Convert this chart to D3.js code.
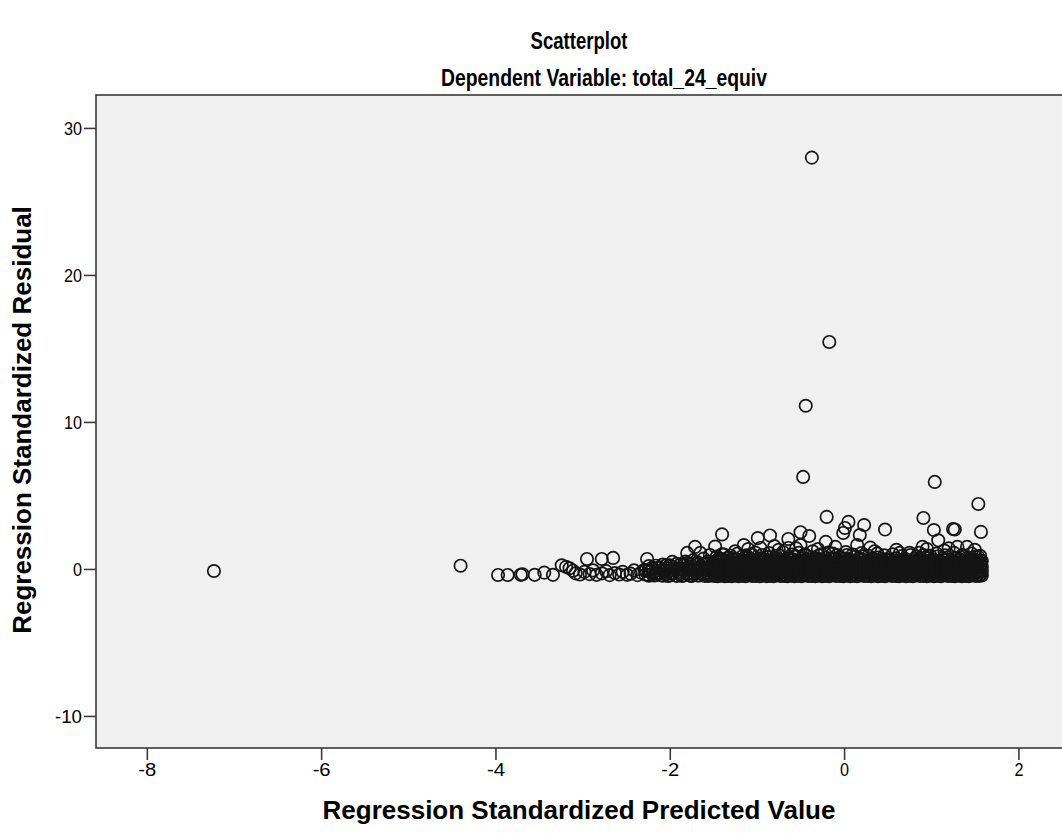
<!DOCTYPE html>
<html>
<head>
<meta charset="utf-8">
<script src="https://cdn.jsdelivr.net/npm/d3@7"></script>
<style>
html,body{margin:0;padding:0;background:#fff;}
svg{display:block;}
text{font-family:Arial,"Liberation Sans",sans-serif;fill:#000;}
</style>
</head>
<body>
<svg id="chart" width="1062" height="833"></svg>
<script>
const titleText = "Scatterplot";
const subtitleText = "Dependent Variable: total_24_equiv";
const xTitle = "Regression Standardized Predicted Value";
const yTitle = "Regression Standardized Residual";
const xTicks = [-8, -6, -4, -2, 0, 2];
const yTicks = [-10, 0, 10, 20, 30];

// isolated outliers [predicted, residual]
const outliers = [[-7.23,-0.14],[-4.40,0.22],[-0.37,27.98],[-0.17,15.44],[-0.44,11.10],[-0.47,6.26],[1.04,5.92],[1.54,4.42]];

// sparse left tail of the main band
const leftTail = [
[-3.97,-0.41],[-3.86,-0.41],[-3.71,-0.40],[-3.69,-0.36],[-3.55,-0.40],[-3.44,-0.25],[-3.34,-0.40],
[-3.24,0.25],[-3.19,0.14],[-3.15,0.05],[-3.11,-0.12],[-3.08,-0.30],[-3.03,-0.38],[-2.98,-0.20],
[-2.95,0.68],[-2.92,-0.35],[-2.88,-0.10],[-2.84,-0.40],[-2.78,0.68],[-2.78,-0.30],[-2.73,-0.15],
[-2.69,-0.42],[-2.65,0.75],[-2.63,-0.28],[-2.58,-0.38],[-2.54,-0.20],[-2.49,-0.40],[-2.45,-0.32],
[-2.41,-0.10],[-2.37,-0.42],[-2.33,-0.25],[-2.29,-0.05],[-2.26,0.68],[-2.25,-0.40],[-2.22,-0.20],
[-2.20,0.10],[-2.18,-0.45],[-2.15,-0.30],[-2.12,0.05],[-2.10,-0.42],[-2.07,-0.15],[-2.04,0.25],
[-2.02,-0.48],[-1.99,-0.30],[-1.97,0.48],[-1.95,0.00],[-1.93,-0.45],[-1.90,-0.20],[-1.88,0.30],
[-1.86,-0.48],[-1.84,-0.05],[-1.82,0.50],[-1.79,-0.35],[-1.77,0.15],[-1.75,-0.48],[-1.73,0.60],
[-1.70,-0.20],[-1.68,0.30],[-1.66,-0.45],[-1.63,0.00],[-1.61,0.70],[-1.60,-0.30],[-1.58,0.40],
[-1.56,-0.48],[-1.53,0.10],[-1.51,-0.25]
];

// dense band: each row = [predicted, residual, residual, ...]
const bandRows = [
[-1.49,-0.47,-0.22,0.08,0.42],[-1.45,-0.5,-0.3,0.0,0.3,0.62],[-1.41,-0.44,-0.12,0.2,0.55],
[-1.37,-0.49,-0.26,0.05,0.35],[-1.33,-0.47,-0.18,0.12,0.45,0.78],[-1.29,-0.5,-0.3,0.0,0.3],
[-1.25,-0.44,-0.12,0.2,0.6],[-1.21,-0.49,-0.26,0.05,0.4],[-1.17,-0.46,-0.16,0.15,0.5,0.85],
[-1.13,-0.5,-0.32,-0.02,0.28],[-1.09,-0.43,-0.1,0.22,0.62],[-1.05,-0.48,-0.24,0.07,0.38,0.95],
[-1.01,-0.47,-0.2,0.1,0.46],[-0.97,-0.5,-0.3,0.0,0.32,0.7],[-0.93,-0.44,-0.14,0.18,0.56],
[-0.89,-0.49,-0.26,0.04,0.4,0.82],[-0.85,-0.46,-0.17,0.13,0.5],[-0.81,-0.5,-0.31,-0.02,0.3,0.66],
[-0.77,-0.43,-0.11,0.21,0.6],[-0.73,-0.48,-0.25,0.06,0.38,0.9],[-0.69,-0.47,-0.2,0.11,0.47],
[-0.65,-0.5,-0.3,0.0,0.33,0.72],[-0.61,-0.44,-0.14,0.18,0.57],[-0.57,-0.49,-0.26,0.05,0.41,0.84],
[-0.53,-0.46,-0.17,0.14,0.5],[-0.49,-0.5,-0.31,-0.01,0.3,0.68],[-0.45,-0.43,-0.11,0.22,0.6,1.0],
[-0.41,-0.48,-0.25,0.06,0.38],[-0.37,-0.47,-0.2,0.1,0.47,0.8],[-0.33,-0.5,-0.3,0.0,0.33],
[-0.29,-0.44,-0.14,0.18,0.57,0.92],[-0.25,-0.49,-0.26,0.05,0.4],[-0.21,-0.46,-0.17,0.14,0.5,0.75],
[-0.17,-0.5,-0.31,-0.01,0.3],[-0.13,-0.43,-0.11,0.22,0.62,1.05],[-0.09,-0.48,-0.25,0.06,0.38],
[-0.05,-0.47,-0.2,0.1,0.47,0.82],[-0.01,-0.5,-0.3,0.0,0.33],[0.03,-0.44,-0.14,0.18,0.57,0.95],
[0.07,-0.49,-0.26,0.05,0.4],[0.11,-0.46,-0.17,0.14,0.5,0.8],[0.15,-0.5,-0.31,-0.01,0.3],
[0.19,-0.43,-0.11,0.22,0.6],[0.23,-0.48,-0.25,0.06,0.38,0.88],[0.27,-0.47,-0.2,0.1,0.47],
[0.31,-0.5,-0.3,0.0,0.33,0.7],[0.35,-0.44,-0.14,0.18,0.57],[0.39,-0.49,-0.26,0.05,0.4,0.78],
[0.43,-0.46,-0.17,0.14,0.5],[0.47,-0.5,-0.31,-0.01,0.3,0.66],[0.51,-0.43,-0.11,0.22,0.58],
[0.55,-0.48,-0.25,0.06,0.38],[0.59,-0.47,-0.2,0.1,0.45,0.72],[0.63,-0.5,-0.3,0.0,0.3],
[0.67,-0.44,-0.14,0.18,0.52],[0.71,-0.49,-0.26,0.05,0.36,0.65],[0.75,-0.46,-0.17,0.14,0.45],
[0.79,-0.5,-0.31,-0.01,0.28],[0.83,-0.43,-0.11,0.2,0.55,0.85],[0.87,-0.48,-0.25,0.06,0.38],
[0.91,-0.47,-0.2,0.1,0.47,0.95],[0.95,-0.5,-0.3,0.0,0.33],[0.99,-0.44,-0.14,0.18,0.57,0.9],
[1.03,-0.49,-0.26,0.05,0.4],[1.07,-0.46,-0.17,0.14,0.5,0.85],[1.11,-0.5,-0.31,-0.01,0.3],
[1.15,-0.43,-0.11,0.22,0.6],[1.19,-0.48,-0.25,0.06,0.38,0.8],[1.23,-0.47,-0.2,0.1,0.47],
[1.27,-0.5,-0.3,0.0,0.33,0.75],[1.31,-0.44,-0.14,0.18,0.57],[1.35,-0.49,-0.26,0.05,0.4,0.9],
[1.39,-0.46,-0.17,0.14,0.5],[1.43,-0.5,-0.31,-0.01,0.3,0.7],[1.47,-0.43,-0.11,0.22,0.6],
[1.51,-0.48,-0.25,0.06,0.38,0.82],[1.55,-0.47,-0.2,0.1,0.47],[1.58,-0.45,-0.15,0.15,0.55]
];

// second, interleaved layer of the dense band
const bandRows2 = [
[-2.28,-0.38,-0.12],[-2.24,-0.46,-0.08,0.2],[-2.20,-0.35,0.0],[-2.16,-0.42,-0.1,0.22],
[-2.12,-0.3,0.1],[-2.08,-0.46,-0.05,0.3],[-2.04,-0.36,0.05],[-2.00,-0.44,-0.12,0.25],
[-1.96,-0.3,0.12],[-1.92,-0.47,-0.08,0.35],[-1.88,-0.38,0.02],[-1.84,-0.45,-0.12,0.25],
[-1.80,-0.32,0.08,0.4],[-1.76,-0.46,-0.05,0.3],[-1.72,-0.36,0.12],[-1.68,-0.44,-0.1,0.45],
[-1.64,-0.3,0.2],[-1.60,-0.47,-0.05,0.35],[-1.56,-0.36,0.1,0.5],[-1.52,-0.44,-0.1,0.28],
[-1.47,-0.36,-0.06,0.28,0.52],[-1.43,-0.4,-0.1,0.22,0.45,0.7],[-1.39,-0.34,-0.04,0.3,0.66],
[-1.35,-0.42,-0.14,0.25,0.5],[-1.31,-0.37,-0.07,0.27,0.53],[-1.27,-0.4,-0.1,0.21,0.44,0.72],
[-1.23,-0.33,-0.03,0.31,0.65],[-1.19,-0.42,-0.15,0.24,0.5],[-1.15,-0.36,-0.06,0.28,0.54],
[-1.11,-0.41,-0.1,0.22,0.46,0.74],[-1.07,-0.34,-0.04,0.3,0.67],[-1.03,-0.42,-0.13,0.25,0.51],
[-0.99,-0.36,-0.07,0.29,0.52],[-0.95,-0.4,-0.1,0.21,0.45,0.71],[-0.91,-0.33,-0.04,0.3,0.66],
[-0.87,-0.42,-0.14,0.26,0.5],[-0.83,-0.36,-0.06,0.28,0.55],[-0.79,-0.4,-0.11,0.22,0.45,0.72],
[-0.75,-0.34,-0.03,0.3,0.68],[-0.71,-0.42,-0.14,0.25,0.5],[-0.67,-0.37,-0.06,0.27,0.52],
[-0.63,-0.4,-0.1,0.22,0.46,0.7],[-0.59,-0.34,-0.04,0.31,0.66],[-0.55,-0.42,-0.15,0.25,0.51],
[-0.51,-0.36,-0.06,0.28,0.53],[-0.47,-0.41,-0.1,0.21,0.45,0.73],[-0.43,-0.34,-0.04,0.3,0.67],
[-0.39,-0.42,-0.14,0.24,0.5],[-0.35,-0.36,-0.07,0.28,0.52],[-0.31,-0.4,-0.1,0.22,0.45,0.7],
[-0.27,-0.33,-0.04,0.3,0.66],[-0.23,-0.42,-0.13,0.25,0.5],[-0.19,-0.36,-0.06,0.29,0.54],
[-0.15,-0.4,-0.1,0.22,0.46,0.72],[-0.11,-0.34,-0.03,0.3,0.67],[-0.07,-0.42,-0.14,0.26,0.51],
[-0.03,-0.36,-0.06,0.28,0.52],[0.01,-0.41,-0.1,0.21,0.45,0.71],[0.05,-0.34,-0.04,0.3,0.66],
[0.09,-0.42,-0.14,0.25,0.5],[0.13,-0.37,-0.07,0.27,0.53],[0.17,-0.4,-0.11,0.22,0.45,0.7],
[0.21,-0.33,-0.04,0.31,0.65],[0.25,-0.42,-0.15,0.24,0.5],[0.29,-0.36,-0.06,0.28,0.52],
[0.33,-0.4,-0.1,0.21,0.44,0.68],[0.37,-0.34,-0.04,0.3,0.62],[0.41,-0.42,-0.13,0.25,0.5],
[0.45,-0.36,-0.07,0.28,0.52],[0.49,-0.4,-0.1,0.22,0.45,0.66],[0.53,-0.34,-0.03,0.3,0.6],
[0.57,-0.42,-0.14,0.25,0.48],[0.61,-0.36,-0.06,0.27,0.5],[0.65,-0.41,-0.1,0.21,0.44,0.62],
[0.69,-0.34,-0.04,0.3,0.58],[0.73,-0.42,-0.14,0.24,0.47],[0.77,-0.36,-0.06,0.28,0.52],
[0.81,-0.4,-0.11,0.22,0.45,0.68],[0.85,-0.33,-0.04,0.3,0.64],[0.89,-0.42,-0.15,0.25,0.5],
[0.93,-0.36,-0.06,0.28,0.54],[0.97,-0.4,-0.1,0.22,0.46,0.72],[1.01,-0.34,-0.03,0.3,0.66],
[1.05,-0.42,-0.14,0.26,0.5],[1.09,-0.36,-0.07,0.28,0.52],[1.13,-0.4,-0.1,0.21,0.45,0.7],
[1.17,-0.34,-0.04,0.3,0.65],[1.21,-0.42,-0.14,0.25,0.5],[1.25,-0.36,-0.06,0.28,0.53],
[1.29,-0.41,-0.1,0.22,0.45,0.72],[1.33,-0.34,-0.04,0.31,0.66],[1.37,-0.42,-0.15,0.25,0.51],
[1.41,-0.36,-0.06,0.27,0.52],[1.45,-0.4,-0.1,0.22,0.45,0.68],[1.49,-0.33,-0.04,0.3,0.64],
[1.53,-0.42,-0.14,0.25,0.5],[1.57,-0.36,-0.06,0.28,0.56]
];

// looser fringe just above the dense band
const bandFringe = [
[-1.46,0.85],[-1.38,0.98],[-1.30,0.90],[-1.22,1.05],[-1.12,0.92],[-1.02,1.12],[-0.94,0.95],
[-0.86,1.08],[-0.78,0.90],[-0.70,1.15],[-0.60,0.98],[-0.52,1.10],[-0.44,0.92],[-0.36,1.20],
[-0.26,1.00],[-0.18,1.12],[-0.08,0.95],[0.02,1.15],[0.10,0.98],[0.20,1.08],[0.28,0.90],
[0.38,1.05],[0.46,0.92],[0.56,1.00],[0.66,0.88],[0.76,0.95],[0.86,1.10],[0.96,0.90],
[1.06,1.05],[1.16,0.92],[1.26,1.10],[1.36,0.95],[1.46,1.05],[1.56,0.90],
[-1.10,1.35],[-0.80,1.55],[-0.55,1.40],[-0.10,1.50],[0.30,1.45],[0.60,1.30],[0.95,1.35],
[1.20,1.40],[1.50,1.30]
];

// scattered points above the band
const upperScatter = [
[-1.80,1.09],[-1.71,1.50],[-1.65,1.09],[-1.54,0.95],[-1.48,1.52],[-1.40,2.35],[-1.40,1.00],
[-1.25,1.20],[-1.15,1.63],[-0.99,2.10],[-0.96,1.43],[-0.85,2.28],[-0.75,1.30],[-0.64,2.04],
[-0.64,1.43],[-0.50,2.50],[-0.40,2.24],[-0.50,1.63],[-0.30,1.35],[-0.21,1.84],[-0.20,3.54],
[-0.01,2.45],[0.01,2.79],[0.05,3.20],[0.15,1.63],[0.18,2.31],[0.23,2.99],[0.35,1.20],
[0.47,2.68],[0.64,1.09],[0.75,1.10],[0.90,1.50],[0.91,3.47],[1.03,2.65],[1.08,1.95],
[1.15,1.25],[1.25,2.72],[1.27,2.68],[1.30,1.50],[1.41,1.50],[1.54,0.82],[1.57,2.52]
];

const bandPoints = [];
bandRows.concat(bandRows2).forEach(r => { for (let i = 1; i < r.length; i++) bandPoints.push([r[0], r[i]]); });
const allPoints = [].concat(leftTail, bandPoints, bandFringe, upperScatter, outliers);

const svg = d3.select("#chart");
const L = 96, R = 1062, T = 95, B = 748;
const x = d3.scaleLinear().domain([-8.583, 2.5]).range([L, R]);
const y = d3.scaleLinear().domain([-12.18, 32.24]).range([B, T]);

svg.append("rect").attr("x", L).attr("y", T).attr("width", R - L + 10).attr("height", B - T)
  .attr("fill", "#f0f0f0").attr("stroke", "#3a3a3a").attr("stroke-width", 1.6);

function fitText(sel, w) { return sel.attr("textLength", w).attr("lengthAdjust", "spacingAndGlyphs"); }

// axes
const xAxis = svg.append("g").attr("transform", `translate(0,${B})`)
  .call(d3.axisBottom(x).tickValues(xTicks).tickSize(12).tickPadding(3).tickFormat(d => String(d)));
const yAxis = svg.append("g").attr("transform", `translate(${L},0)`)
  .call(d3.axisLeft(y).tickValues(yTicks).tickSize(12).tickPadding(2).tickFormat(d => String(d)));
[xAxis, yAxis].forEach(a => {
  a.select(".domain").remove();
  a.selectAll(".tick line").attr("stroke", "#3a3a3a").attr("stroke-width", 1.6);
  a.selectAll(".tick text").attr("font-size", 19).attr("font-family", "Arial, 'Liberation Sans', sans-serif").attr("fill", "#000");
  a.selectAll(".tick text").each(function(){ const t = d3.select(this); fitText(t, t.text().length * 9); });
});

// points
svg.append("g").selectAll("circle").data(allPoints).join("circle")
  .attr("cx", d => x(d[0])).attr("cy", d => y(d[1])).attr("r", 6.2)
  .attr("fill", "none").attr("stroke", "#151515").attr("stroke-width", 1.7);

// titles
fitText(svg.append("text").attr("x", 579).attr("y", 49).attr("text-anchor", "middle")
  .attr("font-size", 24).attr("font-weight", "bold").text(titleText), 97);
fitText(svg.append("text").attr("x", 604).attr("y", 86).attr("text-anchor", "middle")
  .attr("font-size", 24).attr("font-weight", "bold").text(subtitleText), 326);
svg.append("text").attr("x", 579).attr("y", 819).attr("text-anchor", "middle")
  .attr("font-size", 26).attr("font-weight", "bold").text(xTitle);
svg.append("text").attr("transform", "translate(31,420) rotate(-90)").attr("text-anchor", "middle")
  .attr("font-size", 26).attr("font-weight", "bold").text(yTitle);
</script>
</body>
</html>
